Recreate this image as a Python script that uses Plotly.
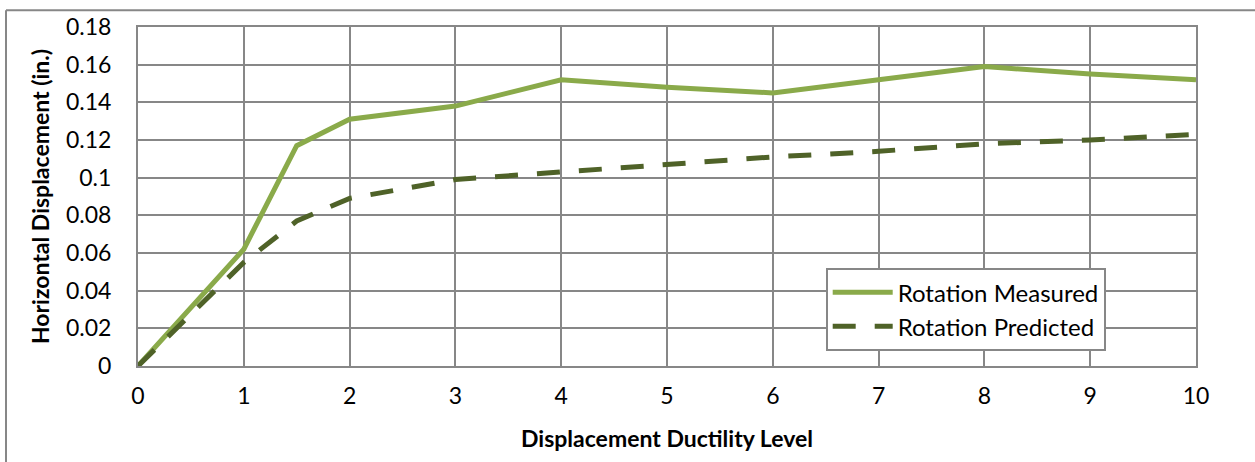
import plotly.graph_objects as go

ductility = [0, 1, 1.5, 2, 3, 4, 5, 6, 7, 8, 9, 10]
measured = [0, 0.062, 0.117, 0.131, 0.138, 0.152, 0.148, 0.145, 0.152, 0.159, 0.155, 0.152]
predicted = [0, 0.055, 0.077, 0.089, 0.099, 0.103, 0.107, 0.111, 0.114, 0.118, 0.120, 0.123]

y_ticks = [0, 0.02, 0.04, 0.06, 0.08, 0.1, 0.12, 0.14, 0.16, 0.18]
y_labels = ["0", "0.02", "0.04", "0.06", "0.08", "0.1", "0.12", "0.14", "0.16", "0.18"]

font = "Lato, 'Open Sans', sans-serif"
grid = "#878787"

fig = go.Figure()
fig.add_trace(go.Scatter(x=ductility, y=measured, name="Rotation Measured",
                         mode="lines", line=dict(color="#8aaa4a", width=5)))
fig.add_trace(go.Scatter(x=ductility, y=predicted, name="Rotation Predicted",
                         mode="lines", line=dict(color="#4f6228", width=5, dash="23px,19px")))

fig.update_layout(
    width=1255, height=462,
    margin=dict(l=138, r=59, t=23, b=96),
    paper_bgcolor="white", plot_bgcolor="white",
    font=dict(family=font, size=23, color="black"),
    showlegend=True,
    legend=dict(x=0.65, y=0.289, xanchor="left", yanchor="top",
                bgcolor="white", bordercolor=grid, borderwidth=2,
                font=dict(size=24), itemwidth=60,
                tracegroupgap=0),
    xaxis=dict(range=[0, 10], dtick=1, showgrid=True, gridcolor=grid, gridwidth=2,
               showline=True, linecolor=grid, linewidth=2, mirror=True,
               ticks="", zeroline=False, ticklabelstandoff=8,
               title=dict(text="<b>Displacement Ductility Level</b>", standoff=23,
                          font=dict(size=23))),
    yaxis=dict(range=[0, 0.18], tickvals=y_ticks, ticktext=y_labels,
               showgrid=True, gridcolor=grid, gridwidth=2,
               showline=True, linecolor=grid, linewidth=2, mirror=True,
               ticks="", zeroline=False, ticklabelstandoff=20,
               title=dict(text="<b>Horizontal Displacement (in.)</b>", standoff=10,
                          font=dict(size=23))),
)

# outer chart frame (top and left edges visible)
fig.add_shape(type="line", xref="paper", yref="paper",
              x0=(6 - 138) / 1058, x1=(1260 - 138) / 1058,
              y0=(366 - 6) / 343, y1=(366 - 6) / 343,
              line=dict(color=grid, width=2))
fig.add_shape(type="line", xref="paper", yref="paper",
              x0=(6 - 138) / 1058, x1=(6 - 138) / 1058,
              y0=(366 - 6) / 343, y1=(366 - 470) / 343,
              line=dict(color=grid, width=2))

fig.write_html("out.html", config={"displayModeBar": False},
               post_script="document.body.style.margin='0';")
